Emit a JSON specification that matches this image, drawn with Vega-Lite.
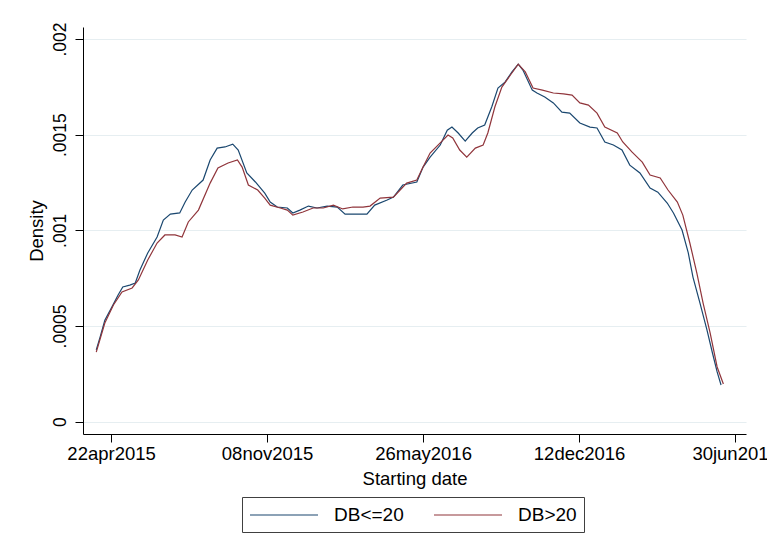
{
  "$schema": "https://vega.github.io/schema/vega-lite/v6.json",
  "width": 663,
  "height": 407,
  "autosize": {"type": "none"},
  "padding": {"left": 83, "top": 27, "right": 21, "bottom": 121},
  "background": "white",
  "config": {
    "view": {"stroke": null},
    "font": "Liberation Sans",
    "axis": {
      "domainColor": "#000000",
      "tickColor": "#000000",
      "tickSize": 8,
      "labelColor": "#000000",
      "titleColor": "#000000",
      "labelFont": "Liberation Sans",
      "titleFont": "Liberation Sans",
      "labelFontSize": 18.5,
      "titleFontSize": 18.5,
      "titleFontWeight": "normal"
    }
  },
  "data": {
    "values": [
      {"date": "2015-04-03", "group": "DB<=20", "density": 0.000375},
      {"date": "2015-04-08", "group": "DB<=20", "density": 0.000443},
      {"date": "2015-04-14", "group": "DB<=20", "density": 0.000531},
      {"date": "2015-04-23", "group": "DB<=20", "density": 0.000599},
      {"date": "2015-05-01", "group": "DB<=20", "density": 0.000662},
      {"date": "2015-05-07", "group": "DB<=20", "density": 0.000704},
      {"date": "2015-05-16", "group": "DB<=20", "density": 0.000714},
      {"date": "2015-05-23", "group": "DB<=20", "density": 0.000725},
      {"date": "2015-05-29", "group": "DB<=20", "density": 0.000793},
      {"date": "2015-06-08", "group": "DB<=20", "density": 0.000882},
      {"date": "2015-06-20", "group": "DB<=20", "density": 0.000965},
      {"date": "2015-06-28", "group": "DB<=20", "density": 0.001054},
      {"date": "2015-07-07", "group": "DB<=20", "density": 0.001085},
      {"date": "2015-07-19", "group": "DB<=20", "density": 0.001091},
      {"date": "2015-07-26", "group": "DB<=20", "density": 0.001148},
      {"date": "2015-08-04", "group": "DB<=20", "density": 0.001211},
      {"date": "2015-08-18", "group": "DB<=20", "density": 0.001263},
      {"date": "2015-08-27", "group": "DB<=20", "density": 0.001368},
      {"date": "2015-09-05", "group": "DB<=20", "density": 0.00143},
      {"date": "2015-09-15", "group": "DB<=20", "density": 0.001436},
      {"date": "2015-09-25", "group": "DB<=20", "density": 0.001451},
      {"date": "2015-10-02", "group": "DB<=20", "density": 0.00142},
      {"date": "2015-10-13", "group": "DB<=20", "density": 0.0013},
      {"date": "2015-10-24", "group": "DB<=20", "density": 0.001253},
      {"date": "2015-11-05", "group": "DB<=20", "density": 0.001195},
      {"date": "2015-11-12", "group": "DB<=20", "density": 0.001148},
      {"date": "2015-11-21", "group": "DB<=20", "density": 0.001122},
      {"date": "2015-12-04", "group": "DB<=20", "density": 0.001117},
      {"date": "2015-12-11", "group": "DB<=20", "density": 0.001091},
      {"date": "2015-12-20", "group": "DB<=20", "density": 0.001106},
      {"date": "2015-12-31", "group": "DB<=20", "density": 0.001127},
      {"date": "2016-01-11", "group": "DB<=20", "density": 0.001117},
      {"date": "2016-01-24", "group": "DB<=20", "density": 0.001127},
      {"date": "2016-02-06", "group": "DB<=20", "density": 0.001122},
      {"date": "2016-02-16", "group": "DB<=20", "density": 0.001085},
      {"date": "2016-03-02", "group": "DB<=20", "density": 0.001085},
      {"date": "2016-03-15", "group": "DB<=20", "density": 0.001085},
      {"date": "2016-03-25", "group": "DB<=20", "density": 0.001132},
      {"date": "2016-04-10", "group": "DB<=20", "density": 0.001159},
      {"date": "2016-04-18", "group": "DB<=20", "density": 0.001174},
      {"date": "2016-04-30", "group": "DB<=20", "density": 0.001237},
      {"date": "2016-05-18", "group": "DB<=20", "density": 0.001253},
      {"date": "2016-05-26", "group": "DB<=20", "density": 0.001331},
      {"date": "2016-06-04", "group": "DB<=20", "density": 0.001383},
      {"date": "2016-06-17", "group": "DB<=20", "density": 0.001446},
      {"date": "2016-06-26", "group": "DB<=20", "density": 0.001524},
      {"date": "2016-07-02", "group": "DB<=20", "density": 0.00154},
      {"date": "2016-07-10", "group": "DB<=20", "density": 0.001509},
      {"date": "2016-07-19", "group": "DB<=20", "density": 0.001467},
      {"date": "2016-07-28", "group": "DB<=20", "density": 0.001509},
      {"date": "2016-08-04", "group": "DB<=20", "density": 0.001535},
      {"date": "2016-08-13", "group": "DB<=20", "density": 0.001551},
      {"date": "2016-08-22", "group": "DB<=20", "density": 0.001645},
      {"date": "2016-08-30", "group": "DB<=20", "density": 0.001744},
      {"date": "2016-09-08", "group": "DB<=20", "density": 0.001775},
      {"date": "2016-09-17", "group": "DB<=20", "density": 0.001828},
      {"date": "2016-09-25", "group": "DB<=20", "density": 0.001869},
      {"date": "2016-10-01", "group": "DB<=20", "density": 0.001838},
      {"date": "2016-10-13", "group": "DB<=20", "density": 0.001733},
      {"date": "2016-10-19", "group": "DB<=20", "density": 0.001718},
      {"date": "2016-10-29", "group": "DB<=20", "density": 0.001697},
      {"date": "2016-11-09", "group": "DB<=20", "density": 0.001666},
      {"date": "2016-11-20", "group": "DB<=20", "density": 0.001618},
      {"date": "2016-11-30", "group": "DB<=20", "density": 0.001613},
      {"date": "2016-12-13", "group": "DB<=20", "density": 0.001561},
      {"date": "2016-12-26", "group": "DB<=20", "density": 0.00154},
      {"date": "2017-01-04", "group": "DB<=20", "density": 0.001535},
      {"date": "2017-01-14", "group": "DB<=20", "density": 0.001462},
      {"date": "2017-01-25", "group": "DB<=20", "density": 0.001446},
      {"date": "2017-02-05", "group": "DB<=20", "density": 0.00142},
      {"date": "2017-02-15", "group": "DB<=20", "density": 0.001341},
      {"date": "2017-02-28", "group": "DB<=20", "density": 0.0013},
      {"date": "2017-03-13", "group": "DB<=20", "density": 0.001221},
      {"date": "2017-03-23", "group": "DB<=20", "density": 0.0012},
      {"date": "2017-04-04", "group": "DB<=20", "density": 0.001143},
      {"date": "2017-04-12", "group": "DB<=20", "density": 0.001091},
      {"date": "2017-04-23", "group": "DB<=20", "density": 0.001002},
      {"date": "2017-05-01", "group": "DB<=20", "density": 0.000882},
      {"date": "2017-05-07", "group": "DB<=20", "density": 0.000756},
      {"date": "2017-05-16", "group": "DB<=20", "density": 0.00062},
      {"date": "2017-05-25", "group": "DB<=20", "density": 0.000479},
      {"date": "2017-06-01", "group": "DB<=20", "density": 0.000359},
      {"date": "2017-06-07", "group": "DB<=20", "density": 0.00026},
      {"date": "2017-06-12", "group": "DB<=20", "density": 0.000192},

      {"date": "2015-04-03", "group": "DB>20", "density": 0.000364},
      {"date": "2015-04-14", "group": "DB>20", "density": 0.000516},
      {"date": "2015-04-25", "group": "DB>20", "density": 0.00061},
      {"date": "2015-05-06", "group": "DB>20", "density": 0.000678},
      {"date": "2015-05-19", "group": "DB>20", "density": 0.000699},
      {"date": "2015-05-27", "group": "DB>20", "density": 0.000741},
      {"date": "2015-06-08", "group": "DB>20", "density": 0.000845},
      {"date": "2015-06-20", "group": "DB>20", "density": 0.000934},
      {"date": "2015-06-30", "group": "DB>20", "density": 0.000976},
      {"date": "2015-07-13", "group": "DB>20", "density": 0.000976},
      {"date": "2015-07-22", "group": "DB>20", "density": 0.000965},
      {"date": "2015-07-30", "group": "DB>20", "density": 0.001044},
      {"date": "2015-08-12", "group": "DB>20", "density": 0.001106},
      {"date": "2015-08-27", "group": "DB>20", "density": 0.001247},
      {"date": "2015-09-06", "group": "DB>20", "density": 0.001326},
      {"date": "2015-09-19", "group": "DB>20", "density": 0.001352},
      {"date": "2015-10-01", "group": "DB>20", "density": 0.001368},
      {"date": "2015-10-07", "group": "DB>20", "density": 0.001331},
      {"date": "2015-10-15", "group": "DB>20", "density": 0.001237},
      {"date": "2015-10-27", "group": "DB>20", "density": 0.001211},
      {"date": "2015-11-05", "group": "DB>20", "density": 0.001169},
      {"date": "2015-11-12", "group": "DB>20", "density": 0.001132},
      {"date": "2015-11-25", "group": "DB>20", "density": 0.001117},
      {"date": "2015-12-04", "group": "DB>20", "density": 0.001106},
      {"date": "2015-12-11", "group": "DB>20", "density": 0.00108},
      {"date": "2015-12-24", "group": "DB>20", "density": 0.001096},
      {"date": "2016-01-06", "group": "DB>20", "density": 0.001117},
      {"date": "2016-01-19", "group": "DB>20", "density": 0.001117},
      {"date": "2016-02-01", "group": "DB>20", "density": 0.001132},
      {"date": "2016-02-13", "group": "DB>20", "density": 0.001112},
      {"date": "2016-02-26", "group": "DB>20", "density": 0.001122},
      {"date": "2016-03-10", "group": "DB>20", "density": 0.001122},
      {"date": "2016-03-19", "group": "DB>20", "density": 0.001127},
      {"date": "2016-04-01", "group": "DB>20", "density": 0.001169},
      {"date": "2016-04-18", "group": "DB>20", "density": 0.001174},
      {"date": "2016-05-05", "group": "DB>20", "density": 0.001247},
      {"date": "2016-05-18", "group": "DB>20", "density": 0.001263},
      {"date": "2016-05-26", "group": "DB>20", "density": 0.001331},
      {"date": "2016-06-04", "group": "DB>20", "density": 0.001404},
      {"date": "2016-06-17", "group": "DB>20", "density": 0.001457},
      {"date": "2016-06-27", "group": "DB>20", "density": 0.001498},
      {"date": "2016-07-03", "group": "DB>20", "density": 0.001483},
      {"date": "2016-07-12", "group": "DB>20", "density": 0.00142},
      {"date": "2016-07-21", "group": "DB>20", "density": 0.001383},
      {"date": "2016-08-01", "group": "DB>20", "density": 0.00143},
      {"date": "2016-08-11", "group": "DB>20", "density": 0.001446},
      {"date": "2016-08-17", "group": "DB>20", "density": 0.001509},
      {"date": "2016-08-26", "group": "DB>20", "density": 0.001645},
      {"date": "2016-09-04", "group": "DB>20", "density": 0.001749},
      {"date": "2016-09-15", "group": "DB>20", "density": 0.001812},
      {"date": "2016-09-25", "group": "DB>20", "density": 0.001869},
      {"date": "2016-10-04", "group": "DB>20", "density": 0.001828},
      {"date": "2016-10-14", "group": "DB>20", "density": 0.001744},
      {"date": "2016-10-26", "group": "DB>20", "density": 0.001733},
      {"date": "2016-11-09", "group": "DB>20", "density": 0.001718},
      {"date": "2016-11-22", "group": "DB>20", "density": 0.001713},
      {"date": "2016-12-03", "group": "DB>20", "density": 0.001707},
      {"date": "2016-12-13", "group": "DB>20", "density": 0.001666},
      {"date": "2016-12-24", "group": "DB>20", "density": 0.001655},
      {"date": "2017-01-04", "group": "DB>20", "density": 0.001613},
      {"date": "2017-01-14", "group": "DB>20", "density": 0.00154},
      {"date": "2017-01-30", "group": "DB>20", "density": 0.001509},
      {"date": "2017-02-06", "group": "DB>20", "density": 0.001462},
      {"date": "2017-02-18", "group": "DB>20", "density": 0.001409},
      {"date": "2017-03-03", "group": "DB>20", "density": 0.001357},
      {"date": "2017-03-13", "group": "DB>20", "density": 0.001289},
      {"date": "2017-03-26", "group": "DB>20", "density": 0.001274},
      {"date": "2017-04-05", "group": "DB>20", "density": 0.001211},
      {"date": "2017-04-17", "group": "DB>20", "density": 0.001148},
      {"date": "2017-04-24", "group": "DB>20", "density": 0.00108},
      {"date": "2017-05-03", "group": "DB>20", "density": 0.000934},
      {"date": "2017-05-12", "group": "DB>20", "density": 0.000777},
      {"date": "2017-05-20", "group": "DB>20", "density": 0.00062},
      {"date": "2017-05-29", "group": "DB>20", "density": 0.000464},
      {"date": "2017-06-07", "group": "DB>20", "density": 0.000286},
      {"date": "2017-06-15", "group": "DB>20", "density": 0.000197}
    ]
  },
  "mark": {"type": "line", "strokeWidth": 1.2},
  "encoding": {
    "x": {
      "field": "date",
      "type": "temporal",
      "scale": {
        "type": "utc",
        "domain": [
          {"year": 2015, "month": 3, "date": 17, "utc": true},
          {"year": 2017, "month": 7, "date": 14, "utc": true}
        ]
      },
      "axis": {
        "title": "Starting date",
        "values": [
          {"year": 2015, "month": 4, "date": 22, "utc": true},
          {"year": 2015, "month": 11, "date": 8, "utc": true},
          {"year": 2016, "month": 5, "date": 26, "utc": true},
          {"year": 2016, "month": 12, "date": 12, "utc": true},
          {"year": 2017, "month": 6, "date": 30, "utc": true}
        ],
        "labelExpr": "lower(utcFormat(datum.value, '%d%b%Y'))",
        "labelFlush": false,
        "labelOverlap": false,
        "labelPadding": 2,
        "titlePadding": 7,
        "grid": false
      }
    },
    "y": {
      "field": "density",
      "type": "quantitative",
      "scale": {"domain": [-0.0000643, 0.002063], "nice": false, "zero": false},
      "axis": {
        "title": "Density",
        "values": [0, 0.0005, 0.001, 0.0015, 0.002],
        "labelExpr": "datum.value == 0 ? '0' : replace(format(datum.value, '.4~f'), '0.', '.')",
        "labelFontSize": 17.5,
        "labelAngle": 270,
        "labelAlign": "center",
        "labelBaseline": "bottom",
        "labelPadding": 6,
        "titlePadding": 5,
        "grid": true,
        "gridColor": "#e6eef1",
        "gridWidth": 1.2
      }
    },
    "color": {
      "field": "group",
      "type": "nominal",
      "scale": {"domain": ["DB<=20", "DB>20"], "range": ["#1a476f", "#90353b"]},
      "legend": {
        "title": null,
        "orient": "none",
        "legendX": 159,
        "legendY": 470,
        "direction": "horizontal",
        "symbolType": "M-3.4,0H3.4",
        "symbolSize": 400,
        "symbolOffset": 24,
        "symbolStrokeWidth": 1.2,
        "labelFontSize": 19,
        "labelFont": "Liberation Sans",
        "labelColor": "#000000",
        "labelOffset": 39,
        "columnPadding": 27,
        "strokeColor": "#404040",
        "fillColor": "white",
        "padding": 7
      }
    }
  }
}
